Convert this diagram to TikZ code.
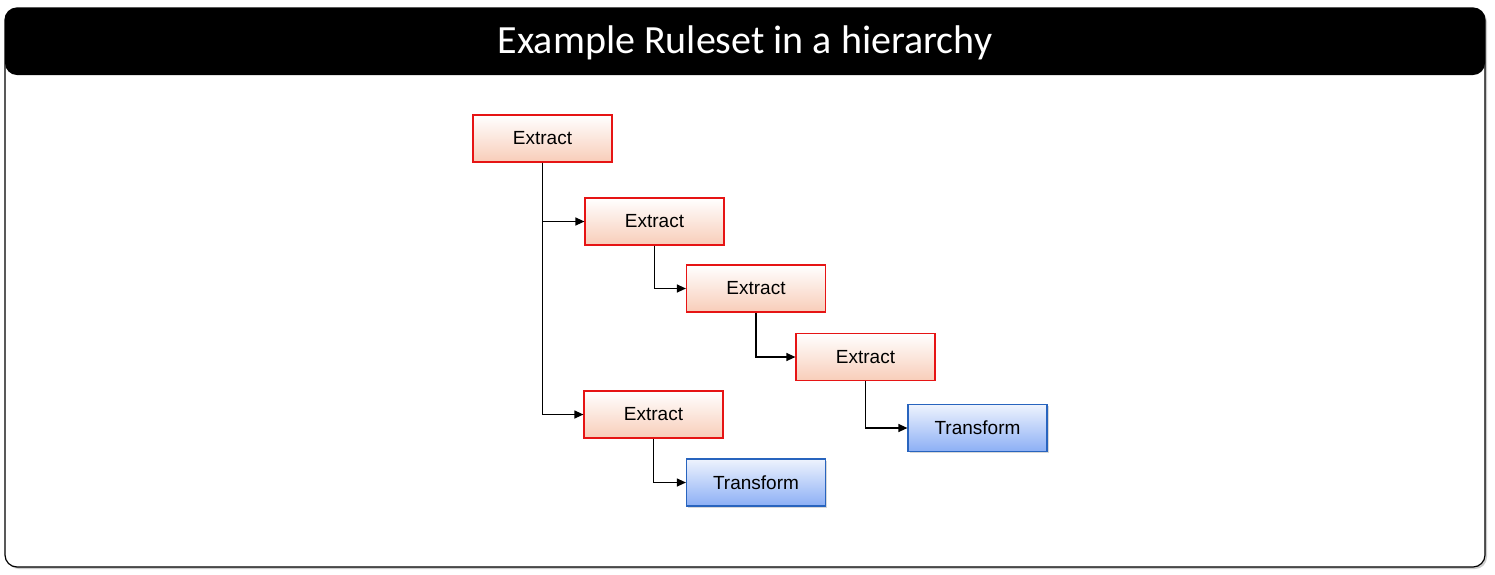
\documentclass[tikz,border=0pt]{standalone}
\usepackage{fontspec}
\setmainfont{Liberation Sans}
\newfontfamily\titlefont{Carlito}
\usetikzlibrary{positioning, arrows.meta, shadows}
\definecolor{exred}{RGB}{230,20,20}
\definecolor{exfill}{RGB}{248,205,185}
\definecolor{trblue}{RGB}{40,100,190}
\definecolor{trfill}{RGB}{140,175,245}

\begin{document}
\begin{tikzpicture}[x=1pt, y=-1pt,
    every node/.style={minimum width=139pt, minimum height=47pt, font=\fontsize{19}{22}\selectfont, inner sep=0pt},
    extractbox/.style={draw=exred, line width=1.2pt, top color=white, bottom color=exfill},
    transformbox/.style={draw=trblue, line width=1.2pt, top color=white!85!trfill, bottom color=trfill, drop shadow={shadow xshift=1.5pt, shadow yshift=-1.5pt, opacity=0.3}},
    link/.style={draw, line width=1.2pt, -{Triangle[length=9pt, width=8pt]}}]

\useasboundingbox (0,0) rectangle (1495,574);

% Rahmen und Titel
\draw[line width=1.2pt, rounded corners=12pt, fill=white, drop shadow={shadow xshift=2pt, shadow yshift=-2pt, opacity=0.4}] (5,8) rectangle (1485,567);
\fill[black, rounded corners=12pt] (5,8) rectangle (1485,75);
\node[minimum width=0pt, text=white, font=\titlefont\fontsize{40}{46}\selectfont] (title) at (745,43) {Example Ruleset in a hierarchy};

% Knoten
\node[extractbox] (E1) at (542.5,138.5) {Extract};
\node[extractbox] (E2) at (654.5,221.5) {Extract};
\node[extractbox] (E3) at (756,288.5) {Extract};
\node[extractbox] (E4) at (865.5,357) {Extract};
\node[extractbox] (E5) at (653.5,414.5) {Extract};
\node[transformbox] (T1) at (756,482.5) {Transform};
\node[transformbox] (T2) at (977.5,428) {Transform};

% Pfeile
\draw[link] (E1.south) |- (E2.west);
\draw[link] (E1.south) |- (E5.west);
\draw[link] (E2.south) |- (E3.west);
\draw[link] (E3.south) |- (E4.west);
\draw[link] (E4.south) |- (T2.west);
\draw[link] (E5.south) |- (T1.west);

\end{tikzpicture}
\end{document}
